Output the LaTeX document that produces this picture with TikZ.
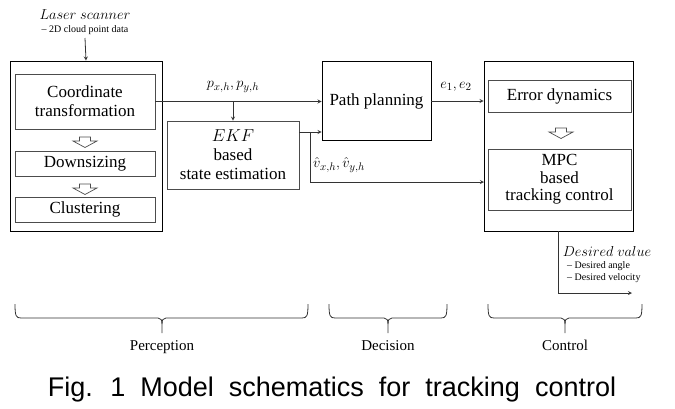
\documentclass[tikz,border=0pt]{standalone}
\usepackage{amsmath, amssymb}
\usepackage{fontspec}
\setmainfont{Liberation Serif}
\newfontfamily\capfont[WordSpace=2.0]{Liberation Sans}
\usepackage{tikz}
\usetikzlibrary{calc}

\tikzset{
	blockin/.style = {draw=black!70, line width=0.8pt, align=center, inner sep=0pt,
		font=\fontsize{17}{19}\selectfont},
	arr/.style = {-stealth, line width=0.8pt, draw=black!80},
	smalltxt/.style = {font=\fontsize{10}{12}\selectfont, inner sep=0pt},
	mathlab/.style = {inner sep=0pt, font=\fontsize{15}{17}\selectfont},
	hollow/.pic = {
		\draw[black!70, line width=0.7pt] (-5.5,0) -- (5.5,0) -- (5.5,4) -- (12,4) -- (0,10.5)
			-- (-12,4) -- (-5.5,4) -- cycle;
	}
}

\begin{document}
\begin{tikzpicture}[x=1pt, y=-1pt]
	\useasboundingbox (0,0) rectangle (675,408);

	% perception
	\node[draw, line width=0.9pt, minimum width=152pt, minimum height=170pt] (percep) at (86,146) {};
	\node[blockin, minimum width=140pt, minimum height=55pt] (coord) at (85,101.5) {Coordinate\\transformation};
	\node[blockin, minimum width=140pt, minimum height=25pt] (down) at (85,163.5) {Downsizing};
	\node[blockin, minimum width=140pt, minimum height=25pt] (clus) at (85,209.5) {Clustering};
	\pic at (85,137) {hollow};
	\pic at (85,184) {hollow};

	\node[mathlab] (laser) at (85,15) {$Laser\ scanner$};
	\node[smalltxt] (cloud) at (85,30) {\textendash\ 2D cloud point data};
	\coordinate (scanin) at (85,38);
	\draw[arr] (scanin) -- (percep.north);

	\node[blockin, minimum width=132pt, minimum height=68pt] (ekf) at (233,155) {$EKF$\\based\\state estimation};

	% decision
	\node[draw, line width=0.9pt, minimum width=109pt, minimum height=79pt, inner sep=0pt,
		font=\fontsize{17}{19}\selectfont] (plan) at (376.5,101) {Path planning};

	% control
	\node[draw, line width=0.9pt, minimum width=149pt, minimum height=170pt] (ctrl) at (558.5,146) {};
	\node[blockin, minimum width=143pt, minimum height=32pt] (err) at (559.5,96) {Error dynamics};
	\node[blockin, minimum width=143pt, minimum height=61pt, font=\fontsize{17}{17.5}\selectfont] (mpc) at (559.5,179.5) {MPC\\based\\tracking control};
	\pic at (561,128) {hollow};

	% connectors
	\coordinate (ekfout) at (299,132);
	\coordinate (split) at (310,132);
	\coordinate (vin) at (484,182);
	\coordinate (dv) at (632,293);
	\draw[arr] (coord.east) -- (coord.east -| plan.west);
	\draw[arr] (coord.east -| ekf.north) -- (ekf.north);
	\draw[arr] (ekfout) -- (ekfout -| plan.west);
	\draw[arr] (split) |- (vin);
	\draw[arr] (plan.east) -- (plan.east -| ctrl.west);
	\draw[arr] (ctrl.south) |- (dv);

	\node[mathlab] (plab) at (233,87) {$p_{x,h}, p_{y,h}$};
	\node[mathlab] (elab) at (456,87) {$e_1, e_2$};
	\node[mathlab, anchor=west] (vlab) at (313,165) {$\hat{v}_{x,h}, \hat{v}_{y,h}$};

	\node[mathlab] (dval) at (607,251) {$Desired\ value$};
	\node[smalltxt, anchor=west] (dang) at (567,266) {\textendash\ Desired angle};
	\node[smalltxt, anchor=west] (dvel) at (567,278) {\textendash\ Desired velocity};

	% braces
	\foreach \xa/\xm/\xb/\name/\txt in {15/162/308/perc/Perception, 329/388/447/deci/Decision, 488/565/642/cont/Control} {
		\draw[line width=0.8pt, black!80] (\xa,304) .. controls (\xa,316) and (\xa+1,318) .. (\xa+6,318)
			-- (\xm-4,318) .. controls (\xm-1,318) and (\xm,320) .. (\xm,324) -- (\xm,333);
		\draw[line width=0.8pt, black!80] (\xm,324) .. controls (\xm,320) and (\xm+1,318) .. (\xm+4,318)
			-- (\xb-6,318) .. controls (\xb-1,318) and (\xb,316) .. (\xb,304);
		\node[inner sep=0pt, anchor=base, font=\fontsize{15}{17}\selectfont] (\name) at (\xm,350) {\txt};
	}

	\node[inner sep=0pt, font=\capfont\fontsize{27}{30}\selectfont] (cap) at (332,390) {Fig. 1 Model schematics for tracking control};
\end{tikzpicture}
\end{document}
